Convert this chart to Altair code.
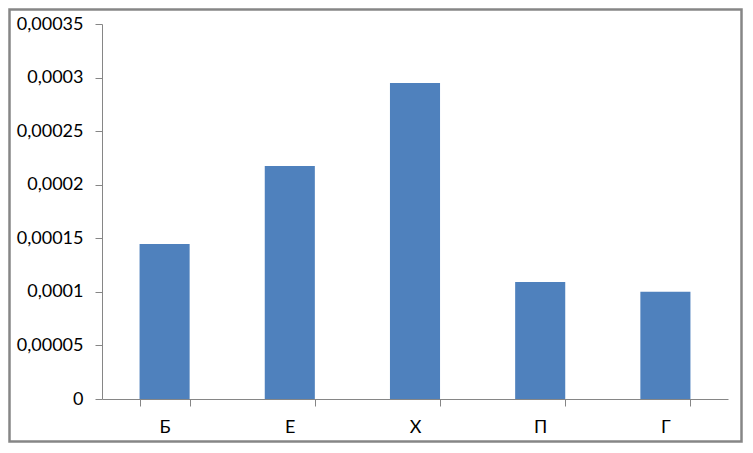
import altair as alt
import pandas as pd

categories = ["Б", "Е", "Х", "П", "Г"]
values = [0.0001447, 0.0002175, 0.000295, 0.0001092, 0.0001]
y_ticks = [0, 0.00005, 0.0001, 0.00015, 0.0002, 0.00025, 0.0003, 0.00035]

df = pd.DataFrame({"cat": categories, "val": values})

FONT = "Lato"
AXIS_COLOR = "#868686"
W, H = 626, 375
PAD = {"left": 94, "top": 16, "right": 15, "bottom": 44}

bars = alt.Chart(df).mark_bar(color="#4F81BD").encode(
    x=alt.X(
        "cat:N",
        sort=categories,
        title=None,
        scale=alt.Scale(paddingInner=0.6, paddingOuter=0.3),
        axis=alt.Axis(
            tickBand="extent",
            labelAngle=0,
            labelFont=FONT,
            labelFontSize=18,
            labelColor="black",
            labelPadding=12,
            tickSize=7,
            tickColor=AXIS_COLOR,
            domainColor=AXIS_COLOR,
            grid=False,
        ),
    ),
    y=alt.Y(
        "val:Q",
        title=None,
        scale=alt.Scale(domain=[0, 0.00035], nice=False),
        axis=alt.Axis(
            values=y_ticks,
            labelExpr="replace(format(datum.value, '~g'), '.', ',')",
            labelFont=FONT,
            labelFontSize=18,
            labelColor="black",
            labelPadding=12,
            tickSize=7,
            tickColor=AXIS_COLOR,
            domainColor=AXIS_COLOR,
            grid=False,
        ),
    ),
)

border = alt.Chart(pd.DataFrame({"a": [0]})).mark_rect(
    fill="transparent", stroke=AXIS_COLOR, strokeWidth=2.5, clip=False
).encode(
    x=alt.value(-PAD["left"] + 1.5),
    x2=alt.value(W + PAD["right"] - 1.5),
    y=alt.value(-PAD["top"] + 1.5),
    y2=alt.value(H + PAD["bottom"] - 1.5),
)

chart = (
    alt.layer(bars, border)
    .properties(
        width=W,
        height=H,
        padding=PAD,
        autosize=alt.AutoSizeParams(type="none"),
        background="white",
    )
    .configure_view(strokeWidth=0)
)

chart.save("out.html", embed_options={"renderer": "svg", "actions": False})
